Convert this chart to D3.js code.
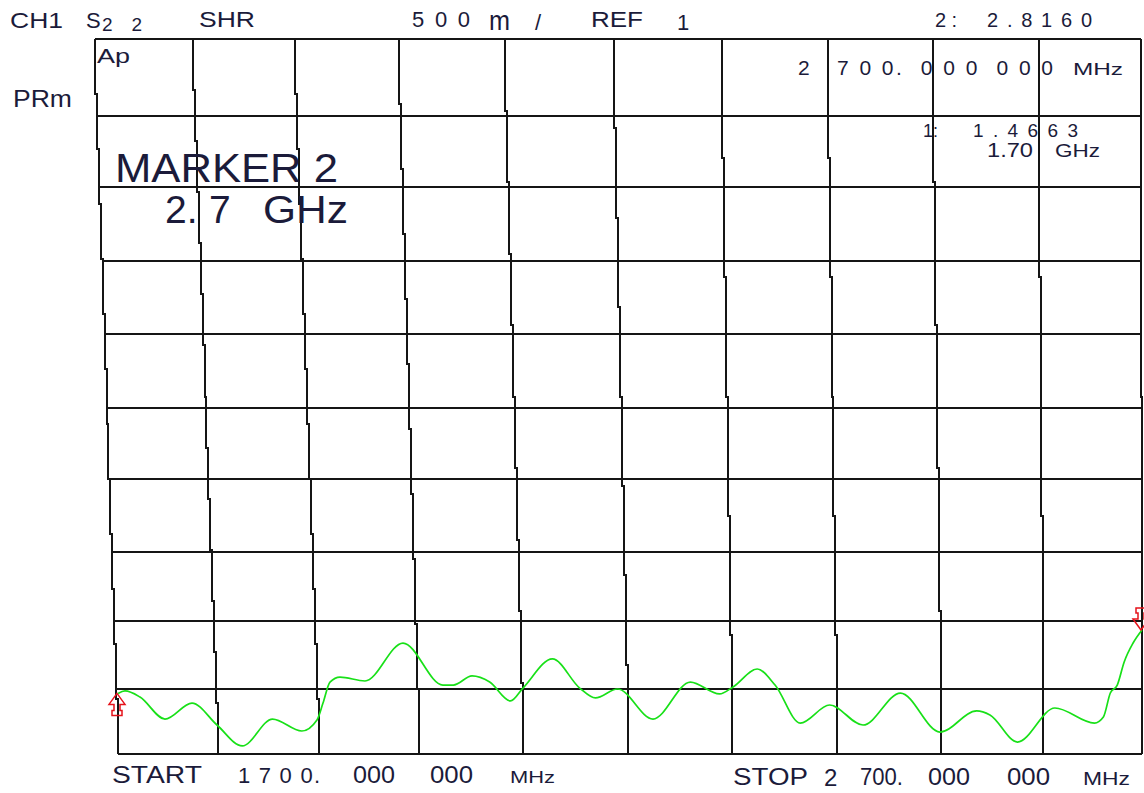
<!DOCTYPE html>
<html>
<head>
<meta charset="utf-8">
<script src="https://cdn.jsdelivr.net/npm/d3@7"></script>
<style>
	body{margin:0;background:#fff;}
	svg{display:block;font-family:"Liberation Sans",Arial,sans-serif;}
</style>
</head>
<body>
<script>
// sweep 1700 - 2700 MHz, one division = 100 MHz
var freqTicks = [1700,1800,1900,2000,2100,2200,2300,2400,2500,2600,2700];
// SWR, REF 1 on the bottom line, 500m / div
var swrTicks = [1,1.5,2,2.5,3,3.5,4,4.5,5,5.5,6];

// S22 trace
var freq = [1700,1707,1722,1747,1774,1799,1824,1854,1883,1898,1904,1911,1921,1946,1984,2023,2033,2051,2068,2088,
	2100,2128,2154,2169,2190,2224,2260,2288,2301,2324,2341,2365,2393,2425,2461,2499,2535,2548,2575,2612,
	2652,2661,2668,2675,2682,2691,2700];
var swr = [1.466,1.485,1.438,1.269,1.392,1.223,1.062,1.269,1.177,1.262,1.392,1.551,1.588,1.559,1.838,1.529,1.529,1.596,1.551,1.408,
	1.507,1.721,1.507,1.431,1.500,1.269,1.551,1.462,1.515,1.647,1.529,1.238,1.377,1.223,1.469,1.169,1.331,1.300,1.092,1.354,
	1.238,1.285,1.469,1.529,1.699,1.838,1.934];

// marker 1 at the start point, marker 2 at the stop point
var markerIdx = [0, freq.length-1];

var W = 1144, H = 793;
var gridTop = 39, gridBottom = 754;
// the screen grid is skewed: vertical lines lean, rows are not even
var topX = [95,193,295,399,505,614,722,828,933,1039,1141];
var bottomX = [118,218,319,419,523,628,732,837,941,1043,1142];
var rowY = [754,689,621,552,479,408,334,261,187,116,39];

var xTop = d3.scaleLinear().domain(freqTicks).range(topX);
var x = d3.scaleLinear().domain(freqTicks).range(bottomX);
var y = d3.scaleLinear().domain(swrTicks).range(rowY);

var svg = d3.select("body").append("svg").attr("width", W).attr("height", H);

function nSteps(f){
	return Math.max(1, Math.round(Math.abs(x(f)-xTop(f))/2));
}
function lineX(f, yy){
	var x0 = xTop(f), x1 = x(f), n = nSteps(f);
	var k = Math.min(n, Math.floor((yy-gridTop)/(gridBottom-gridTop)*(n+1)));
	return x0 + (x1-x0)*k/n;
}
function vpath(f){
	var x0 = xTop(f), x1 = x(f), n = nSteps(f);
	var step = (gridBottom-gridTop)/(n+1);
	var p = "M"+x0+","+gridTop;
	for (var k=1; k<=n; k++){
		p += "V"+(gridTop+step*k)+"H"+(x0+(x1-x0)*k/n);
	}
	return p + "V"+gridBottom;
}

var grid = svg.append("g").attr("fill","none").attr("stroke","#151515")
	.attr("stroke-width",2).attr("shape-rendering","crispEdges");
grid.selectAll(".v").data(freqTicks).enter().append("path").attr("class","v")
	.attr("d", vpath);
grid.selectAll(".h").data(swrTicks).enter().append("line").attr("class","h")
	.attr("x1", d=>lineX(freqTicks[0], y(d)))
	.attr("x2", d=>lineX(freqTicks[freqTicks.length-1], y(d)))
	.attr("y1", d=>y(d)).attr("y2", d=>y(d));

// trace
var pts = freq.map((f,i)=>[f, swr[i]]);
var line = d3.line().x(d=>x(d[0])).y(d=>y(d[1])).curve(d3.curveMonotoneX);
svg.append("path").datum(pts)
	.attr("d", line)
	.attr("fill","none").attr("stroke","#18e018").attr("stroke-width",1.7);

// markers (hollow arrows), marker 2 is flipped
var arrow = "M0,0L-8,11L-3,11L-3,17L-5,17L-5,22L5,22L5,17L3,17L3,11L8,11Z";
svg.selectAll(".mk").data(markerIdx).enter().append("path").attr("class","mk")
	.attr("d", arrow)
	.attr("transform", (d,i)=>"translate("+(x(freq[d])-1)+","+y(swr[d])+")"+(i==1?" scale(1,-1)":""))
	.attr("fill","none").attr("stroke","#e5121a").attr("stroke-width",1.5);

// screen annotations: text, x, baseline, size, width, stretch glyphs
var labels = [
	["CH1", 10, 28, 22, 53, 1],
	["S", 86, 28, 22, 0],
	["2 2", 102, 31, 19, 40],
	["SHR", 199, 27, 22, 56, 1],
	["5 0 0", 412, 27, 22, 58],
	["m", 489, 30, 27, 21, 1],
	["/", 535, 30, 22, 0],
	["REF", 591, 27, 22, 52, 1],
	["1", 677, 30, 22, 0],
	["2:", 935, 27, 20, 22],
	["2 . 8 1 6 0", 987, 27, 20, 105],
	["Ap", 97, 63, 20, 33, 1],
	["PRm", 13, 107, 23, 59, 1],
	["2", 798, 75, 21, 0],
	["7 0 0.  0 0 0  0 0 0", 837, 75, 21, 216],
	["MHz", 1073, 75, 17, 50, 1],
	["1:", 923, 137, 18, 0],
	["1 . 4 6 6 3", 973, 137, 19, 105],
	["1.70", 987, 157, 20, 46, 1],
	["GHz", 1055, 157, 19, 45, 1],
	["MARKER 2", 115, 182, 40, 223, 1],
	["2.", 165, 223, 39, 0],
	["7", 209, 223, 39, 0],
	["GHz", 263, 223, 39, 85, 1],
	["START", 112, 783, 24, 90, 1],
	["1 7 0 0.", 238, 783, 22, 82],
	["000", 353, 783, 23, 42, 1],
	["000", 430, 783, 23, 43, 1],
	["MHz", 510, 783, 17, 45, 1],
	["STOP", 733, 785, 24, 75, 1],
	["2", 824, 786, 24, 0],
	["700.", 860, 785, 24, 43, 1],
	["000", 928, 785, 24, 42, 1],
	["000", 1007, 785, 24, 43, 1],
	["MHz", 1083, 785, 18, 47, 1]
];

var t = svg.append("g").attr("fill","#1b1b3a");
t.selectAll("text").data(labels).enter().append("text")
	.attr("x", d=>d[1]).attr("y", d=>d[2])
	.attr("font-size", d=>d[3])
	.attr("textLength", d=>d[4] ? d[4] : null)
	.attr("lengthAdjust", d=>d[5] ? "spacingAndGlyphs" : "spacing")
	.style("white-space","pre")
	.text(d=>d[0]);
</script>
</body>
</html>
